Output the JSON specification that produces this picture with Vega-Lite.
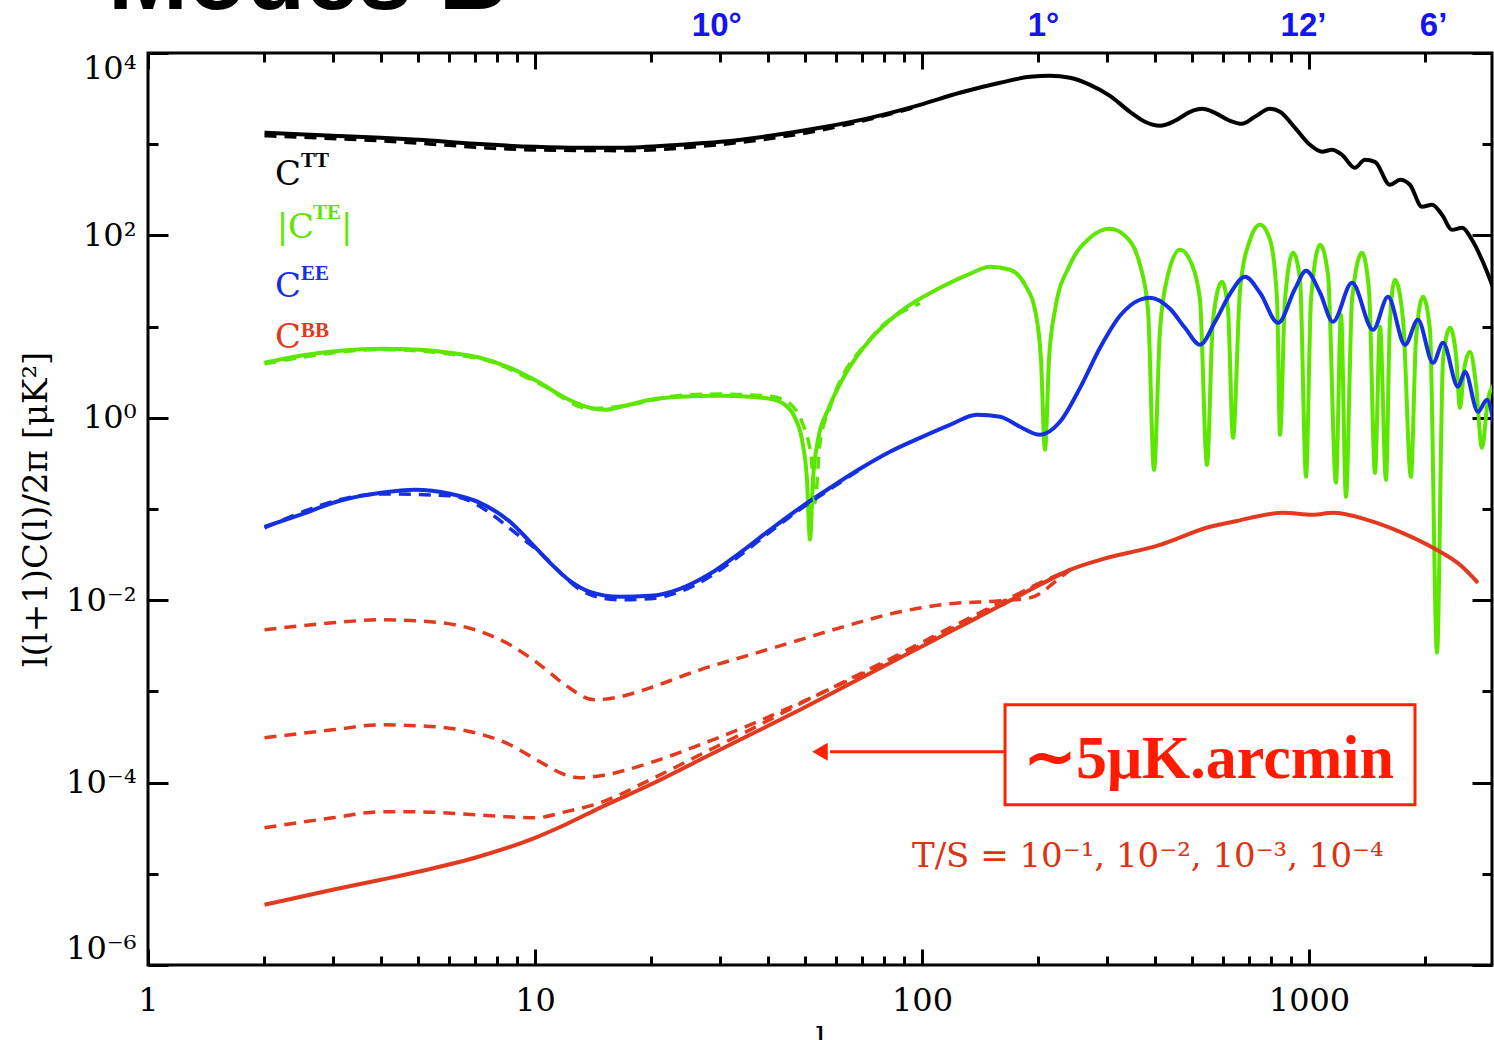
{
  "$schema": "https://vega.github.io/schema/vega-lite/v6.json",
  "width": 1344,
  "height": 912,
  "autosize": "none",
  "padding": {"left": 148, "top": 53, "right": 2, "bottom": 75},
  "background": "white",
  "config": {
    "view": {"stroke": "black", "strokeWidth": 3},
    "axis": {"grid": false, "domain": false, "tickColor": "black", "tickWidth": 3, "labelColor": "black", "titleColor": "black"}
  },
  "datasets": {
    "solid": [
      {"s":"TT","c":"TT","l":2.0,"v":1334},{"s":"TT","c":"TT","l":3.0,"v":1236},{"s":"TT","c":"TT","l":4.0,"v":1175},{"s":"TT","c":"TT","l":4.99,"v":1117},{"s":"TT","c":"TT","l":7.0,"v":1010},{"s":"TT","c":"TT","l":10,"v":936},{"s":"TT","c":"TT","l":13.07,"v":913},{"s":"TT","c":"TT","l":16.6,"v":913},{"s":"TT","c":"TT","l":23.7,"v":985},{"s":"TT","c":"TT","l":30.1,"v":1062},{"s":"TT","c":"TT","l":40.5,"v":1236},{"s":"TT","c":"TT","l":54.5,"v":1513},{"s":"TT","c":"TT","l":73.4,"v":1946},{"s":"TT","c":"TT","l":98.8,"v":2704},{"s":"TT","c":"TT","l":125.3,"v":3661},{"s":"TT","c":"TT","l":159.1,"v":4713},{"s":"TT","c":"TT","l":190.2,"v":5483},{"s":"TT","c":"TT","l":214.3,"v":5623},{"s":"TT","c":"TT","l":241.2,"v":5346},{"s":"TT","c":"TT","l":271.7,"v":4478},{"s":"TT","c":"TT","l":306.1,"v":3394},{"s":"TT","c":"TT","l":344.6,"v":2265},{"s":"TT","c":"TT","l":376.7,"v":1761},{"s":"TT","c":"TT","l":412,"v":1592},{"s":"TT","c":"TT","l":450.6,"v":1806},{"s":"TT","c":"TT","l":493,"v":2265},{"s":"TT","c":"TT","l":529.6,"v":2444},{"s":"TT","c":"TT","l":571.6,"v":2208},{"s":"TT","c":"TT","l":625.2,"v":1806},{"s":"TT","c":"TT","l":671.5,"v":1674},{"s":"TT","c":"TT","l":724.4,"v":1996},{"s":"TT","c":"TT","l":792.5,"v":2444},{"s":"TT","c":"TT","l":841.4,"v":2265},{"s":"TT","c":"TT","l":920.4,"v":1513},{"s":"TT","c":"TT","l":1006,"v":985},{"s":"TT","c":"TT","l":1081,"v":826},{"s":"TT","c":"TT","l":1146,"v":868},{"s":"TT","c":"TT","l":1217,"v":765},{"s":"TT","c":"TT","l":1314,"v":551},{"s":"TT","c":"TT","l":1395,"v":675},{"s":"TT","c":"TT","l":1481,"v":641},{"s":"TT","c":"TT","l":1619,"v":359},{"s":"TT","c":"TT","l":1719,"v":407},{"s":"TT","c":"TT","l":1823,"v":359},{"s":"TT","c":"TT","l":1959,"v":206},{"s":"TT","c":"TT","l":2080,"v":217},{"s":"TT","c":"TT","l":2207,"v":168},{"s":"TT","c":"TT","l":2342,"v":115},{"s":"TT","c":"TT","l":2486,"v":121},{"s":"TT","c":"TT","l":2637,"v":89.5},{"s":"TT","c":"TT","l":2799,"v":54},{"s":"TT","c":"TT","l":3006,"v":25.3},

      {"s":"TE","c":"TE","l":2.0,"v":4.01},{"s":"TE","c":"TE","l":2.47,"v":4.78},{"s":"TE","c":"TE","l":3.13,"v":5.43},{"s":"TE","c":"TE","l":4.0,"v":5.71},{"s":"TE","c":"TE","l":5.05,"v":5.57},{"s":"TE","c":"TE","l":6.03,"v":5.16},{"s":"TE","c":"TE","l":7.21,"v":4.55},{"s":"TE","c":"TE","l":8.62,"v":3.53},{"s":"TE","c":"TE","l":10.3,"v":2.42},{"s":"TE","c":"TE","l":11.96,"v":1.66},{"s":"TE","c":"TE","l":13.87,"v":1.287},{"s":"TE","c":"TE","l":15.17,"v":1.224},{"s":"TE","c":"TE","l":17.09,"v":1.354},{"s":"TE","c":"TE","l":19.83,"v":1.575},{"s":"TE","c":"TE","l":23.7,"v":1.7},{"s":"TE","c":"TE","l":30.06,"v":1.743},{"s":"TE","c":"TE","l":35.94,"v":1.7},{"s":"TE","c":"TE","l":40.48,"v":1.615},{"s":"TE","c":"TE","l":44.26,"v":1.388},{"s":"TE","c":"TE","l":46.97,"v":1.0},{"s":"TE","c":"TE","l":48.97,"v":0.574},{"s":"TE","c":"TE","l":50.45,"v":0.209},{"s":"TE","c":"TE","l":51.36,"v":0.046},{"s":"TE","c":"TE","l":52.28,"v":0.209},{"s":"TE","c":"TE","l":53.86,"v":0.574},{"s":"TE","c":"TE","l":57.17,"v":1.224},{"s":"TE","c":"TE","l":63.24,"v":2.96},{"s":"TE","c":"TE","l":73.38,"v":7.17},{"s":"TE","c":"TE","l":87.75,"v":14.5},{"s":"TE","c":"TE","l":111.3,"v":26.6},{"s":"TE","c":"TE","l":133.0,"v":37.9},{"s":"TE","c":"TE","l":149.8,"v":45.3},{"s":"TE","c":"TE","l":168.8,"v":42.0},{"s":"TE","c":"TE","l":184.6,"v":28.7},{"s":"TE","c":"TE","l":195.9,"v":15.3},{"s":"TE","c":"TE","l":203.0,"v":4.32},{"s":"TE","c":"TE","l":207.9,"v":0.446},{"s":"TE","c":"TE","l":212.9,"v":4.32},{"s":"TE","c":"TE","l":220.7,"v":15.3},{"s":"TE","c":"TE","l":241.2,"v":47.6},{"s":"TE","c":"TE","l":271.7,"v":94.1},{"s":"TE","c":"TE","l":306.1,"v":118.1},{"s":"TE","c":"TE","l":334.6,"v":99.0},{"s":"TE","c":"TE","l":365.8,"v":47.6},{"s":"TE","c":"TE","l":383.7,"v":15.3},{"s":"TE","c":"TE","l":397.7,"v":0.269},{"s":"TE","c":"TE","l":412.1,"v":9.22},{"s":"TE","c":"TE","l":432.2,"v":37.0},{"s":"TE","c":"TE","l":464.2,"v":69.5},{"s":"TE","c":"TE","l":498.5,"v":47.6},{"s":"TE","c":"TE","l":522.8,"v":19.7},{"s":"TE","c":"TE","l":545.0,"v":0.305},{"s":"TE","c":"TE","l":564.9,"v":11.87},{"s":"TE","c":"TE","l":596.0,"v":31.0},{"s":"TE","c":"TE","l":617.7,"v":15.3},{"s":"TE","c":"TE","l":636.4,"v":0.603},{"s":"TE","c":"TE","l":663.5,"v":25.3},{"s":"TE","c":"TE","l":704.1,"v":89.5},{"s":"TE","c":"TE","l":747.1,"v":130.7},{"s":"TE","c":"TE","l":793.2,"v":89.5},{"s":"TE","c":"TE","l":826.9,"v":19.7},{"s":"TE","c":"TE","l":841.8,"v":0.651},{"s":"TE","c":"TE","l":867.0,"v":19.7},{"s":"TE","c":"TE","l":909.4,"v":64.5},{"s":"TE","c":"TE","l":948.2,"v":32.6},{"s":"TE","c":"TE","l":982.6,"v":0.2254},{"s":"TE","c":"TE","l":1012,"v":19.7},{"s":"TE","c":"TE","l":1068,"v":78.9},{"s":"TE","c":"TE","l":1120,"v":37.0},{"s":"TE","c":"TE","l":1174,"v":0.194},{"s":"TE","c":"TE","l":1210,"v":13.47},{"s":"TE","c":"TE","l":1246,"v":0.136},{"s":"TE","c":"TE","l":1292,"v":19.7},{"s":"TE","c":"TE","l":1371,"v":64.5},{"s":"TE","c":"TE","l":1429,"v":25.3},{"s":"TE","c":"TE","l":1481,"v":0.249},{"s":"TE","c":"TE","l":1526,"v":9.95},{"s":"TE","c":"TE","l":1581,"v":0.209},{"s":"TE","c":"TE","l":1619,"v":11.87},{"s":"TE","c":"TE","l":1668,"v":32.6},{"s":"TE","c":"TE","l":1750,"v":11.87},{"s":"TE","c":"TE","l":1834,"v":0.2254},{"s":"TE","c":"TE","l":1890,"v":7.17},{"s":"TE","c":"TE","l":1970,"v":21.2},{"s":"TE","c":"TE","l":2054,"v":9.22},{"s":"TE","c":"TE","l":2142,"v":0.00265},{"s":"TE","c":"TE","l":2220,"v":4.32},{"s":"TE","c":"TE","l":2314,"v":9.7},{"s":"TE","c":"TE","l":2398,"v":4.91},{"s":"TE","c":"TE","l":2456,"v":1.287},{"s":"TE","c":"TE","l":2515,"v":3.36},{"s":"TE","c":"TE","l":2606,"v":5.29},{"s":"TE","c":"TE","l":2701,"v":2.3},{"s":"TE","c":"TE","l":2799,"v":0.469},{"s":"TE","c":"TE","l":2900,"v":1.575},{"s":"TE","c":"TE","l":3006,"v":2.3},

      {"s":"EE","c":"EE","l":2.0,"v":0.0638},{"s":"EE","c":"EE","l":2.47,"v":0.0864},{"s":"EE","c":"EE","l":3.13,"v":0.123},{"s":"EE","c":"EE","l":4.0,"v":0.1505},{"s":"EE","c":"EE","l":4.9,"v":0.1623},{"s":"EE","c":"EE","l":6.03,"v":0.1468},{"s":"EE","c":"EE","l":7.21,"v":0.1169},{"s":"EE","c":"EE","l":8.62,"v":0.0724},{"s":"EE","c":"EE","l":9.71,"v":0.0437},{"s":"EE","c":"EE","l":10.94,"v":0.0257},{"s":"EE","c":"EE","l":12.31,"v":0.01632},{"s":"EE","c":"EE","l":13.87,"v":0.01237},{"s":"EE","c":"EE","l":16.58,"v":0.0109},{"s":"EE","c":"EE","l":19.83,"v":0.01117},{"s":"EE","c":"EE","l":23.7,"v":0.01334},{"s":"EE","c":"EE","l":28.34,"v":0.01948},{"s":"EE","c":"EE","l":33.86,"v":0.0331},{"s":"EE","c":"EE","l":40.48,"v":0.0591},{"s":"EE","c":"EE","l":48.4,"v":0.1031},{"s":"EE","c":"EE","l":57.86,"v":0.1708},{"s":"EE","c":"EE","l":69.15,"v":0.276},{"s":"EE","c":"EE","l":82.66,"v":0.424},{"s":"EE","c":"EE","l":98.8,"v":0.603},{"s":"EE","c":"EE","l":118.1,"v":0.838},{"s":"EE","c":"EE","l":138.7,"v":1.079},{"s":"EE","c":"EE","l":159.1,"v":1.026},{"s":"EE","c":"EE","l":179.2,"v":0.797},{"s":"EE","c":"EE","l":201.8,"v":0.651},{"s":"EE","c":"EE","l":227.3,"v":0.904},{"s":"EE","c":"EE","l":256.1,"v":2.13},{"s":"EE","c":"EE","l":288.4,"v":5.85},{"s":"EE","c":"EE","l":324.8,"v":13.14},{"s":"EE","c":"EE","l":365.8,"v":19.7},{"s":"EE","c":"EE","l":388.3,"v":20.7},{"s":"EE","c":"EE","l":437.3,"v":15.67},{"s":"EE","c":"EE","l":478.2,"v":9.7},{"s":"EE","c":"EE","l":522.8,"v":6.32},{"s":"EE","c":"EE","l":571.7,"v":11.29},{"s":"EE","c":"EE","l":625.2,"v":22.9},{"s":"EE","c":"EE","l":683.5,"v":35.2},{"s":"EE","c":"EE","l":747.1,"v":23.5},{"s":"EE","c":"EE","l":831.8,"v":11.0},{"s":"EE","c":"EE","l":920.3,"v":26.0},{"s":"EE","c":"EE","l":982.6,"v":40.9},{"s":"EE","c":"EE","l":1068,"v":23.5},{"s":"EE","c":"EE","l":1153,"v":11.29},{"s":"EE","c":"EE","l":1292,"v":30.2},{"s":"EE","c":"EE","l":1464,"v":9.22},{"s":"EE","c":"EE","l":1600,"v":21.2},{"s":"EE","c":"EE","l":1771,"v":6.32},{"s":"EE","c":"EE","l":1912,"v":11.87},{"s":"EE","c":"EE","l":2092,"v":4.01},{"s":"EE","c":"EE","l":2220,"v":6.64},{"s":"EE","c":"EE","l":2427,"v":2.19},{"s":"EE","c":"EE","l":2530,"v":3.19},{"s":"EE","c":"EE","l":2733,"v":1.164},{"s":"EE","c":"EE","l":2883,"v":1.575},{"s":"EE","c":"EE","l":3006,"v":0.838},

      {"s":"BB","c":"BB","l":2.0,"v":4.57e-6},{"s":"BB","c":"BB","l":3.0,"v":6.68e-6},{"s":"BB","c":"BB","l":4.0,"v":8.6e-6},{"s":"BB","c":"BB","l":4.99,"v":1.052e-5},{"s":"BB","c":"BB","l":7.0,"v":1.498e-5},{"s":"BB","c":"BB","l":10,"v":2.48e-5},{"s":"BB","c":"BB","l":11.96,"v":3.45e-5},{"s":"BB","c":"BB","l":14.72,"v":5.29e-5},{"s":"BB","c":"BB","l":19.83,"v":9.46e-5},{"s":"BB","c":"BB","l":26.69,"v":1.778e-4},{"s":"BB","c":"BB","l":35.94,"v":3.34e-4},{"s":"BB","c":"BB","l":48.4,"v":6.28e-4},{"s":"BB","c":"BB","l":65.16,"v":1.212e-3},{"s":"BB","c":"BB","l":87.75,"v":2.336e-3},{"s":"BB","c":"BB","l":118.1,"v":4.5e-3},{"s":"BB","c":"BB","l":159.1,"v":8.68e-3},{"s":"BB","c":"BB","l":201.8,"v":0.01475},{"s":"BB","c":"BB","l":241.2,"v":0.02154},{"s":"BB","c":"BB","l":288.4,"v":0.02773},{"s":"BB","c":"BB","l":412.1,"v":0.0405},{"s":"BB","c":"BB","l":554.9,"v":0.0638},{"s":"BB","c":"BB","l":636.4,"v":0.0724},{"s":"BB","c":"BB","l":856.9,"v":0.0908},{"s":"BB","c":"BB","l":1024,"v":0.0864},{"s":"BB","c":"BB","l":1153,"v":0.0908},{"s":"BB","c":"BB","l":1413,"v":0.0761},{"s":"BB","c":"BB","l":1719,"v":0.0562},{"s":"BB","c":"BB","l":2092,"v":0.03754},{"s":"BB","c":"BB","l":2456,"v":0.02444},{"s":"BB","c":"BB","l":2733,"v":0.01551}
    ],
    "dashed": [
      {"s":"TTd","c":"TT","l":2,"v":1240},{"s":"TTd","c":"TT","l":4,"v":1090},{"s":"TTd","c":"TT","l":10,"v":866},{"s":"TTd","c":"TT","l":16.6,"v":850},{"s":"TTd","c":"TT","l":30,"v":990},{"s":"TTd","c":"TT","l":54.5,"v":1420},{"s":"TTd","c":"TT","l":98.8,"v":2620},

      {"s":"TEd","c":"TE","l":2.0,"v":3.9},{"s":"TEd","c":"TE","l":4.0,"v":5.6},{"s":"TEd","c":"TE","l":7.21,"v":4.45},{"s":"TEd","c":"TE","l":10.3,"v":2.35},{"s":"TEd","c":"TE","l":13.87,"v":1.26},{"s":"TEd","c":"TE","l":17.09,"v":1.36},{"s":"TEd","c":"TE","l":23.7,"v":1.76},{"s":"TEd","c":"TE","l":30.06,"v":1.82},{"s":"TEd","c":"TE","l":40.48,"v":1.72},{"s":"TEd","c":"TE","l":44.26,"v":1.55},{"s":"TEd","c":"TE","l":48.97,"v":0.9},{"s":"TEd","c":"TE","l":51.8,"v":0.35},{"s":"TEd","c":"TE","l":52.9,"v":0.117},{"s":"TEd","c":"TE","l":54.4,"v":0.5},{"s":"TEd","c":"TE","l":57.86,"v":1.3},{"s":"TEd","c":"TE","l":73.4,"v":7.3},{"s":"TEd","c":"TE","l":98.8,"v":18},

      {"s":"EEd","c":"EE","l":2.0,"v":0.062},{"s":"EEd","c":"EE","l":4.0,"v":0.146},{"s":"EEd","c":"EE","l":6.03,"v":0.14},{"s":"EEd","c":"EE","l":9.71,"v":0.041},{"s":"EEd","c":"EE","l":13.87,"v":0.0115},{"s":"EEd","c":"EE","l":16.58,"v":0.0101},{"s":"EEd","c":"EE","l":19.83,"v":0.0104},{"s":"EEd","c":"EE","l":23.7,"v":0.0124},{"s":"EEd","c":"EE","l":28.34,"v":0.0182},{"s":"EEd","c":"EE","l":33.86,"v":0.031},{"s":"EEd","c":"EE","l":40.48,"v":0.056},{"s":"EEd","c":"EE","l":48.4,"v":0.099},{"s":"EEd","c":"EE","l":57.86,"v":0.165},{"s":"EEd","c":"EE","l":69.15,"v":0.27},

      {"s":"BB1","c":"BB","l":2.0,"v":4.74e-3},{"s":"BB1","c":"BB","l":3.0,"v":5.65e-3},{"s":"BB1","c":"BB","l":4.0,"v":6.1e-3},{"s":"BB1","c":"BB","l":4.99,"v":5.94e-3},{"s":"BB1","c":"BB","l":7.0,"v":4.74e-3},{"s":"BB1","c":"BB","l":8.62,"v":3.24e-3},{"s":"BB1","c":"BB","l":10.3,"v":1.957e-3},{"s":"BB1","c":"BB","l":11.96,"v":1.181e-3},{"s":"BB1","c":"BB","l":14.21,"v":8.09e-4},{"s":"BB1","c":"BB","l":16.58,"v":8.73e-4},{"s":"BB1","c":"BB","l":19.83,"v":1.095e-3},{"s":"BB1","c":"BB","l":26.69,"v":1.725e-3},{"s":"BB1","c":"BB","l":35.94,"v":2.52e-3},{"s":"BB1","c":"BB","l":48.4,"v":3.68e-3},{"s":"BB1","c":"BB","l":65.16,"v":5.37e-3},{"s":"BB1","c":"BB","l":87.75,"v":7.46e-3},{"s":"BB1","c":"BB","l":118.1,"v":9.13e-3},{"s":"BB1","c":"BB","l":159.1,"v":9.85e-3},{"s":"BB1","c":"BB","l":190.2,"v":0.01062},{"s":"BB1","c":"BB","l":227.3,"v":0.0176},{"s":"BB1","c":"BB","l":241.2,"v":0.02154},

      {"s":"BB2","c":"BB","l":2.0,"v":3.1e-4},{"s":"BB2","c":"BB","l":3.0,"v":3.79e-4},{"s":"BB2","c":"BB","l":4.0,"v":4.3e-4},{"s":"BB2","c":"BB","l":4.99,"v":4.2e-4},{"s":"BB2","c":"BB","l":7.0,"v":3.52e-4},{"s":"BB2","c":"BB","l":8.62,"v":2.6e-4},{"s":"BB2","c":"BB","l":10.3,"v":1.691e-4},{"s":"BB2","c":"BB","l":11.96,"v":1.218e-4},{"s":"BB2","c":"BB","l":13.07,"v":1.129e-4},{"s":"BB2","c":"BB","l":14.72,"v":1.187e-4},{"s":"BB2","c":"BB","l":19.83,"v":1.649e-4},{"s":"BB2","c":"BB","l":26.69,"v":2.6e-4},{"s":"BB2","c":"BB","l":35.94,"v":4.3e-4},{"s":"BB2","c":"BB","l":48.4,"v":7.5e-4},{"s":"BB2","c":"BB","l":65.16,"v":1.34e-3},{"s":"BB2","c":"BB","l":87.75,"v":2.457e-3},{"s":"BB2","c":"BB","l":118.1,"v":4.74e-3},{"s":"BB2","c":"BB","l":159.1,"v":9.13e-3},{"s":"BB2","c":"BB","l":201.8,"v":0.01551},{"s":"BB2","c":"BB","l":241.2,"v":0.02154},

      {"s":"BB3","c":"BB","l":2.0,"v":3.19e-5},{"s":"BB3","c":"BB","l":3.0,"v":4.11e-5},{"s":"BB3","c":"BB","l":4.0,"v":4.78e-5},{"s":"BB3","c":"BB","l":4.99,"v":4.78e-5},{"s":"BB3","c":"BB","l":7.0,"v":4.44e-5},{"s":"BB3","c":"BB","l":10,"v":4.11e-5},{"s":"BB3","c":"BB","l":11.96,"v":4.78e-5},{"s":"BB3","c":"BB","l":14.72,"v":6.0e-5},{"s":"BB3","c":"BB","l":19.83,"v":1.073e-4},{"s":"BB3","c":"BB","l":26.69,"v":2.017e-4},{"s":"BB3","c":"BB","l":35.94,"v":3.79e-4},{"s":"BB3","c":"BB","l":48.4,"v":7.31e-4},{"s":"BB3","c":"BB","l":65.16,"v":1.375e-3},{"s":"BB3","c":"BB","l":87.75,"v":2.585e-3},{"s":"BB3","c":"BB","l":118.1,"v":4.98e-3},{"s":"BB3","c":"BB","l":159.1,"v":9.37e-3},{"s":"BB3","c":"BB","l":201.8,"v":0.0151},{"s":"BB3","c":"BB","l":241.2,"v":0.02154}
    ],
    "names": [
      {"t":"C","c":"TT","l":2.13,"v":358.7},
      {"t":"|C","c":"TE","l":2.15,"v":94.1},
      {"t":"|","c":"TE","l":3.153,"v":94.1},
      {"t":"C","c":"EE","l":2.13,"v":21.2},
      {"t":"C","c":"BB","l":2.13,"v":5.85}
    ],
    "supers": [
      {"t":"TT","c":"TT","l":2.485,"v":565},
      {"t":"TE","c":"TE","l":2.669,"v":152},
      {"t":"EE","c":"EE","l":2.485,"v":32.6},
      {"t":"BB","c":"BB","l":2.485,"v":7.73}
    ],
    "box": [{"l1":163.9,"l2":1879,"v1":7.13e-4,"v2":5.71e-5}],
    "arrow": [{"l1":57.86,"l2":163.9,"v":2.176e-4}],
    "head": [{"l":54.5,"v":2.176e-4}],
    "big": [{"t":"∼5μK.arcmin","l":551.5,"v":1.129e-4}],
    "small": [{"t":"T/S = 10⁻¹, 10⁻², 10⁻³, 10⁻⁴","l":94.2,"v":1.193e-5}],
    "heading": [{"t":"Modes B","l":0.788,"v":30520}]
  },
  "layer": [
    {
      "data": {"name": "solid"},
      "mark": {"type": "line", "strokeWidth": 4, "clip": true, "interpolate": "monotone"},
      "encoding": {
        "x": {"field": "l", "type": "quantitative", "scale": {"type": "log", "domain": [1, 2971], "nice": false},
              "axis": {"orient": "bottom", "values": [1, 10, 100, 1000], "ticks": false, "format": "d", "labelFont": "DejaVu Serif", "labelFontSize": 32, "labelPadding": 20, "labelFlush": false, "labelOverlap": false, "title": "l", "titleFont": "DejaVu Serif", "titleFontSize": 32, "titleFontWeight": "normal", "titlePadding": 8}},
        "y": {"field": "v", "type": "quantitative", "scale": {"type": "log", "domain": [1e-6, 10000], "nice": false},
              "axis": {"orient": "left", "values": [1e-6, 1e-4, 0.01, 1, 100, 10000], "ticks": false, "labelExpr": "datum.value > 5000 ? '10⁴' : datum.value > 50 ? '10²' : datum.value > 0.5 ? '10⁰' : datum.value > 0.005 ? '10⁻²' : datum.value > 0.00005 ? '10⁻⁴' : '10⁻⁶'", "labelFont": "DejaVu Serif", "labelFontSize": 32, "labelPadding": 12, "labelFlush": true, "labelOverlap": false, "title": "l(l+1)C(l)/2π  [μK²]", "titleFont": "DejaVu Serif", "titleFontSize": 34, "titleFontWeight": "normal", "titlePadding": 12}},
        "color": {"field": "c", "type": "nominal", "scale": {"domain": ["TT", "TE", "EE", "BB"], "range": ["#000000", "#5ce600", "#1530e0", "#e23a1e"]}, "legend": null},
        "detail": {"field": "s"}
      }
    },
    {
      "data": {"name": "dashed"},
      "mark": {"type": "line", "strokeWidth": 3.5, "strokeDash": [12, 8], "clip": true, "interpolate": "monotone"},
      "encoding": {
        "x": {"field": "l", "type": "quantitative", "scale": {"type": "log", "domain": [1, 2971], "nice": false},
              "axis": {"orient": "bottom", "values": [1, 10, 100, 1000], "labels": false, "tickSize": -16, "title": null}},
        "y": {"field": "v", "type": "quantitative", "scale": {"type": "log", "domain": [1e-6, 10000], "nice": false},
              "axis": {"orient": "left", "values": [1e-6, 1e-4, 0.01, 1, 100, 10000], "labels": false, "tickSize": -20, "title": null}},
        "color": {"field": "c", "type": "nominal", "scale": {"domain": ["TT", "TE", "EE", "BB"], "range": ["#000000", "#5ce600", "#1530e0", "#e23a1e"]}, "legend": null},
        "detail": {"field": "s"}
      }
    },
    {
      "data": {"name": "names"},
      "mark": {"type": "text", "align": "left", "baseline": "alphabetic", "font": "DejaVu Serif", "fontSize": 34},
      "encoding": {
        "x": {"field": "l", "type": "quantitative", "scale": {"type": "log", "domain": [1, 2971], "nice": false},
              "axis": {"orient": "bottom", "values": [2, 3, 4, 5, 6, 7, 8, 9, 20, 30, 40, 50, 60, 70, 80, 90, 200, 300, 400, 500, 600, 700, 800, 900, 2000], "labels": false, "tickSize": -9, "title": null}},
        "y": {"field": "v", "type": "quantitative", "scale": {"type": "log", "domain": [1e-6, 10000], "nice": false},
              "axis": {"orient": "left", "values": [1e-5, 1e-3, 0.1, 10, 1000], "labels": false, "tickSize": -10, "title": null}},
        "text": {"field": "t"},
        "color": {"field": "c", "type": "nominal", "scale": {"domain": ["TT", "TE", "EE", "BB"], "range": ["#000000", "#5ce600", "#1530e0", "#e23a1e"]}, "legend": null}
      }
    },
    {
      "data": {"name": "supers"},
      "mark": {"type": "text", "align": "left", "baseline": "alphabetic", "font": "Liberation Serif", "fontWeight": "bold", "fontSize": 21},
      "encoding": {
        "x": {"field": "l", "type": "quantitative", "scale": {"type": "log", "domain": [1, 2971], "nice": false}, "axis": null},
        "y": {"field": "v", "type": "quantitative", "scale": {"type": "log", "domain": [1e-6, 10000], "nice": false}, "axis": null},
        "text": {"field": "t"},
        "color": {"field": "c", "type": "nominal", "scale": {"domain": ["TT", "TE", "EE", "BB"], "range": ["#000000", "#5ce600", "#1530e0", "#e23a1e"]}, "legend": null}
      }
    },
    {
      "data": {"name": "box"},
      "mark": {"type": "rect", "filled": false, "stroke": "#ff2200", "strokeWidth": 3},
      "encoding": {
        "x": {"field": "l1", "type": "quantitative", "scale": {"type": "log", "domain": [1, 2971], "nice": false},
              "axis": {"orient": "top", "values": [1, 10, 100, 1000], "labels": false, "tickSize": -16, "title": null}},
        "x2": {"field": "l2"},
        "y": {"field": "v1", "type": "quantitative", "scale": {"type": "log", "domain": [1e-6, 10000], "nice": false},
              "axis": {"orient": "right", "values": [1e-6, 1e-4, 0.01, 1, 100, 10000], "labels": false, "tickSize": -20, "title": null}},
        "y2": {"field": "v2"}
      }
    },
    {
      "data": {"name": "arrow"},
      "mark": {"type": "rule", "stroke": "#ff2200", "strokeWidth": 3},
      "encoding": {
        "x": {"field": "l1", "type": "quantitative", "scale": {"type": "log", "domain": [1, 2971], "nice": false},
              "axis": {"orient": "top", "values": [2, 3, 4, 5, 6, 7, 8, 9, 20, 30, 40, 50, 60, 70, 80, 90, 200, 300, 400, 500, 600, 700, 800, 900, 2000], "labels": false, "tickSize": -9, "title": null}},
        "x2": {"field": "l2"},
        "y": {"field": "v", "type": "quantitative", "scale": {"type": "log", "domain": [1e-6, 10000], "nice": false},
              "axis": {"orient": "right", "values": [1e-5, 1e-3, 0.1, 10, 1000], "labels": false, "tickSize": -10, "title": null}}
      }
    },
    {
      "data": {"name": "head"},
      "mark": {"type": "point", "shape": "triangle-left", "filled": true, "size": 320, "color": "#ff2200", "opacity": 1},
      "encoding": {
        "x": {"field": "l", "type": "quantitative", "scale": {"type": "log", "domain": [1, 2971], "nice": false},
              "axis": {"orient": "top", "values": [29.4, 205.5, 965, 2092], "ticks": false, "labelExpr": "datum.value < 100 ? '10°' : datum.value < 500 ? '1°' : datum.value < 1500 ? '12’' : '6’'", "labelFont": "Liberation Sans", "labelFontWeight": "bold", "labelFontSize": 33, "labelColor": "#1414ee", "labelPadding": 18, "labelBaseline": "alphabetic", "labelFlush": false, "labelOverlap": false, "title": null}},
        "y": {"field": "v", "type": "quantitative", "scale": {"type": "log", "domain": [1e-6, 10000], "nice": false}, "axis": null}
      }
    },
    {
      "data": {"name": "big"},
      "mark": {"type": "text", "align": "center", "baseline": "alphabetic", "font": "Liberation Serif", "fontWeight": "bold", "fontSize": 62, "color": "#ff1a00"},
      "encoding": {
        "x": {"field": "l", "type": "quantitative", "scale": {"type": "log", "domain": [1, 2971], "nice": false}, "axis": null},
        "y": {"field": "v", "type": "quantitative", "scale": {"type": "log", "domain": [1e-6, 10000], "nice": false}, "axis": null},
        "text": {"field": "t"}
      }
    },
    {
      "data": {"name": "small"},
      "mark": {"type": "text", "align": "left", "baseline": "alphabetic", "font": "DejaVu Serif", "fontSize": 34, "color": "#dd3311"},
      "encoding": {
        "x": {"field": "l", "type": "quantitative", "scale": {"type": "log", "domain": [1, 2971], "nice": false}, "axis": null},
        "y": {"field": "v", "type": "quantitative", "scale": {"type": "log", "domain": [1e-6, 10000], "nice": false}, "axis": null},
        "text": {"field": "t"}
      }
    },
    {
      "data": {"name": "heading"},
      "mark": {"type": "text", "align": "left", "baseline": "alphabetic", "font": "Liberation Sans", "fontWeight": "bold", "fontSize": 96, "color": "black", "clip": false},
      "encoding": {
        "x": {"field": "l", "type": "quantitative", "scale": {"type": "log", "domain": [1, 2971], "nice": false}, "axis": null},
        "y": {"field": "v", "type": "quantitative", "scale": {"type": "log", "domain": [1e-6, 10000], "nice": false}, "axis": null},
        "text": {"field": "t"}
      }
    }
  ],
  "resolve": {"axis": {"x": "independent", "y": "independent"}}
}
